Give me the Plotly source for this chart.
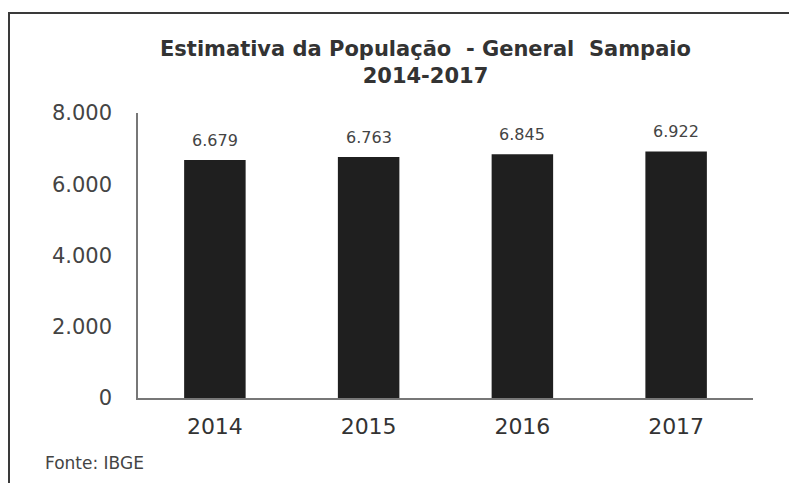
import plotly.graph_objects as go

years = ["2014", "2015", "2016", "2017"]
population = [6679, 6763, 6845, 6922]
value_labels = ["6.679", "6.763", "6.845", "6.922"]
y_ticks = [0, 2000, 4000, 6000, 8000]
y_tick_labels = ["0", "2.000", "4.000", "6.000", "8.000"]

W, H = 789, 483
L, R, T, B = 138, 36, 113, 85
pw, ph = W - L - R, H - T - B

def px_x(x):
    return (x - L) / pw

def px_y(y):
    return (H - B - y) / ph

fig = go.Figure()
fig.add_trace(go.Bar(
    x=years, y=population,
    marker=dict(color="#1f1f1f", line=dict(width=0)),
    width=0.4,
    text=value_labels, textposition="none",
    hoverinfo="skip",
))

annotations = []
for i, (v, lab) in enumerate(zip(population, value_labels)):
    annotations.append(dict(
        x=i, y=v, xref="x", yref="y", text=lab, showarrow=False,
        yanchor="bottom", yshift=8,
        font=dict(family="DejaVu Sans", size=16, color="#444444"),
    ))

annotations.append(dict(
    x=px_x(425), y=px_y(63), xref="paper", yref="paper",
    text="<b>Estimativa da População  - General  Sampaio</b><br><b>2014-2017</b>",
    showarrow=False, xanchor="center", yanchor="middle", align="center",
    font=dict(family="DejaVu Sans", size=21, color="#333333"),
))
annotations.append(dict(
    x=px_x(43), y=px_y(463), xref="paper", yref="paper",
    text="Fonte: IBGE", showarrow=False, xanchor="left", yanchor="middle",
    font=dict(family="DejaVu Sans", size=17, color="#444444"),
))

fig.update_layout(
    width=W, height=H,
    margin=dict(l=L, r=R, t=T, b=B, pad=0),
    paper_bgcolor="white", plot_bgcolor="white",
    showlegend=False,
    annotations=annotations,
    shapes=[dict(
        type="rect", xref="paper", yref="paper",
        x0=px_x(9), y0=px_y(13), x1=px_x(800), y1=px_y(500),
        line=dict(color="#3a3a3a", width=2), fillcolor="rgba(0,0,0,0)",
        layer="below",
    )],
    bargap=0.6,
)
fig.update_xaxes(
    type="category", range=[-0.5, 3.5],
    showline=True, linecolor="#777777", linewidth=1.5,
    showgrid=False, ticks="", zeroline=False,
    tickfont=dict(family="DejaVu Sans", size=22, color="#333333"),
    ticklabelstandoff=8,
)
fig.update_yaxes(
    range=[0, 8000], tickvals=y_ticks, ticktext=y_tick_labels,
    showline=True, linecolor="#777777", linewidth=1.5,
    showgrid=False, ticks="", zeroline=False,
    tickfont=dict(family="DejaVu Sans", size=21, color="#444444"),
    ticklabelstandoff=20,
)

fig.write_html(
    "out.html",
    config={"displayModeBar": False},
    post_script="document.body.style.margin='0';document.body.style.padding='0';",
)
